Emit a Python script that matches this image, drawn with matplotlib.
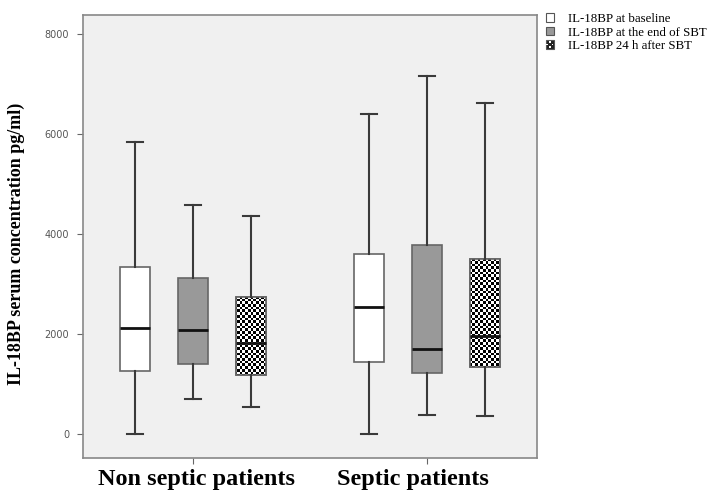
import numpy as np
import matplotlib
matplotlib.use("Agg")
import matplotlib.pyplot as plt
from matplotlib.patches import Rectangle, Patch
from matplotlib.legend_handler import HandlerBase
from matplotlib.transforms import ScaledTranslation

groups = ["Non septic patients", "Septic patients"]
series = ["IL-18BP at baseline", "IL-18BP at the end of SBT", "IL-18BP 24 h after SBT"]
# [group][series] -> (whislo, q1, med, q3, whishi)
whislo = [[0, 710, 550], [0, 380, 360]]
q1 = [[1270, 1410, 1180], [1450, 1230, 1350]]
med = [[2130, 2080, 1830], [2550, 1700, 1970]]
q3 = [[3340, 3120, 2750], [3610, 3790, 3510]]
whishi = [[5840, 4580, 4370], [6400, 7170, 6620]]
yticks = [0, 2000, 4000, 6000, 8000]

fig = plt.figure(figsize=(7.2, 4.96), dpi=100)
ax = fig.add_axes([0.1153, 0.0766, 0.6305, 0.8931])
ax.set_facecolor("#f0f0f0")
ax.set_xlim(0.53, 2.47)
ax.set_ylim(-480, 8380)

offsets = [-0.248, 0.0, 0.248]
width = 0.132
fills = ["white", "#999999", "white"]

# checkerboard image for the third series
ncx, ncy = 168, 164
cb = (np.add.outer(np.arange(ncy), np.arange(ncx)) % 2).astype(float)

for g in range(len(groups)):
    for s in range(len(series)):
        stats = [dict(whislo=whislo[g][s], q1=q1[g][s], med=med[g][s],
                      q3=q3[g][s], whishi=whishi[g][s], fliers=[])]
        pos = g + 1 + offsets[s]
        bp = ax.bxp(stats, positions=[pos], widths=width, patch_artist=True,
                    showfliers=False, manage_ticks=False,
                    boxprops=dict(facecolor=fills[s], edgecolor="#666666", linewidth=1.2),
                    whiskerprops=dict(color="#3a3a3a", linewidth=1.5),
                    capprops=dict(color="#3a3a3a", linewidth=1.5),
                    medianprops=dict(color="#111111", linewidth=2.0),
                    capwidths=width * 0.5)
        if s == 2:
            box = bp["boxes"][0]
            im = ax.imshow(cb, cmap="gray", vmin=0, vmax=1, interpolation="nearest",
                           extent=[0.53, 2.47, -480, 8380], aspect="auto", zorder=2.05)
            im.set_clip_path(box)
            for k in ("medians", "whiskers", "caps"):
                for a in bp[k]:
                    a.set_zorder(2.2)
            ov = Rectangle((pos - width / 2, q1[g][s]), width, q3[g][s] - q1[g][s],
                           fill=False, edgecolor="#666666", linewidth=1.2, zorder=2.1)
            ax.add_patch(ov)

ax.set_xticks([1, 2])
ax.set_xticklabels(groups, fontfamily="Liberation Serif", fontweight="bold", fontsize=17.5)
ax.tick_params(axis="x", length=4, color="#666666", pad=4)
shifts = [4, -14]
for lbl, dx in zip(ax.get_xticklabels(), shifts):
    lbl.set_transform(lbl.get_transform() + ScaledTranslation(dx / 100, 0, fig.dpi_scale_trans))
ax.set_yticks(yticks)
ax.set_yticklabels([str(v) for v in yticks], fontsize=7, color="#555555")
ax.tick_params(axis="y", length=4, color="#666666", pad=6)
for sp in ax.spines.values():
    sp.set_color("#888888")
    sp.set_linewidth(1.2)
ax.set_ylabel("IL-18BP serum concentration pg/ml)", fontfamily="Liberation Serif",
              fontweight="bold", fontsize=13)
ax.yaxis.set_label_coords(-0.128, 0.484)


class CheckerHandler(HandlerBase):
    def create_artists(self, legend, orig_handle, xdescent, ydescent, width, height, fontsize, trans):
        arts = []
        sz = min(width, height)
        x0 = -xdescent + (width - sz) / 2
        y0 = -ydescent + (height - sz) / 2
        arts.append(Rectangle((x0, y0), sz, sz, facecolor="#222222", edgecolor="#555555",
                              linewidth=0.8, transform=trans))
        n = 3
        c = sz / n
        for i in range(n):
            for j in range(n):
                if (i + j) % 2 == 1:
                    arts.append(Rectangle((x0 + i * c + c * 0.2, y0 + j * c + c * 0.2), c * 0.6, c * 0.6,
                                          facecolor="white", edgecolor="none", transform=trans))
        return arts


class SquareHandler(HandlerBase):
    def create_artists(self, legend, orig_handle, xdescent, ydescent, width, height, fontsize, trans):
        sz = min(width, height)
        x0 = -xdescent + (width - sz) / 2
        y0 = -ydescent + (height - sz) / 2
        return [Rectangle((x0, y0), sz, sz, facecolor=orig_handle.get_facecolor(),
                          edgecolor="#555555", linewidth=0.8, transform=trans)]


h1 = Patch(facecolor="white")
h2 = Patch(facecolor="#999999")
h3 = Patch(facecolor="#222222")
leg = fig.legend([h1, h2, h3], series, loc="upper left", bbox_to_anchor=(0.744, 0.992),
                 frameon=False, prop=dict(family="Liberation Serif", size=9.3),
                 handler_map={h1: SquareHandler(), h2: SquareHandler(), h3: CheckerHandler()},
                 handlelength=0.8, handleheight=0.6, handletextpad=1.0, labelspacing=0.12,
                 borderpad=0.2)

fig.savefig("out.png", dpi=100)
